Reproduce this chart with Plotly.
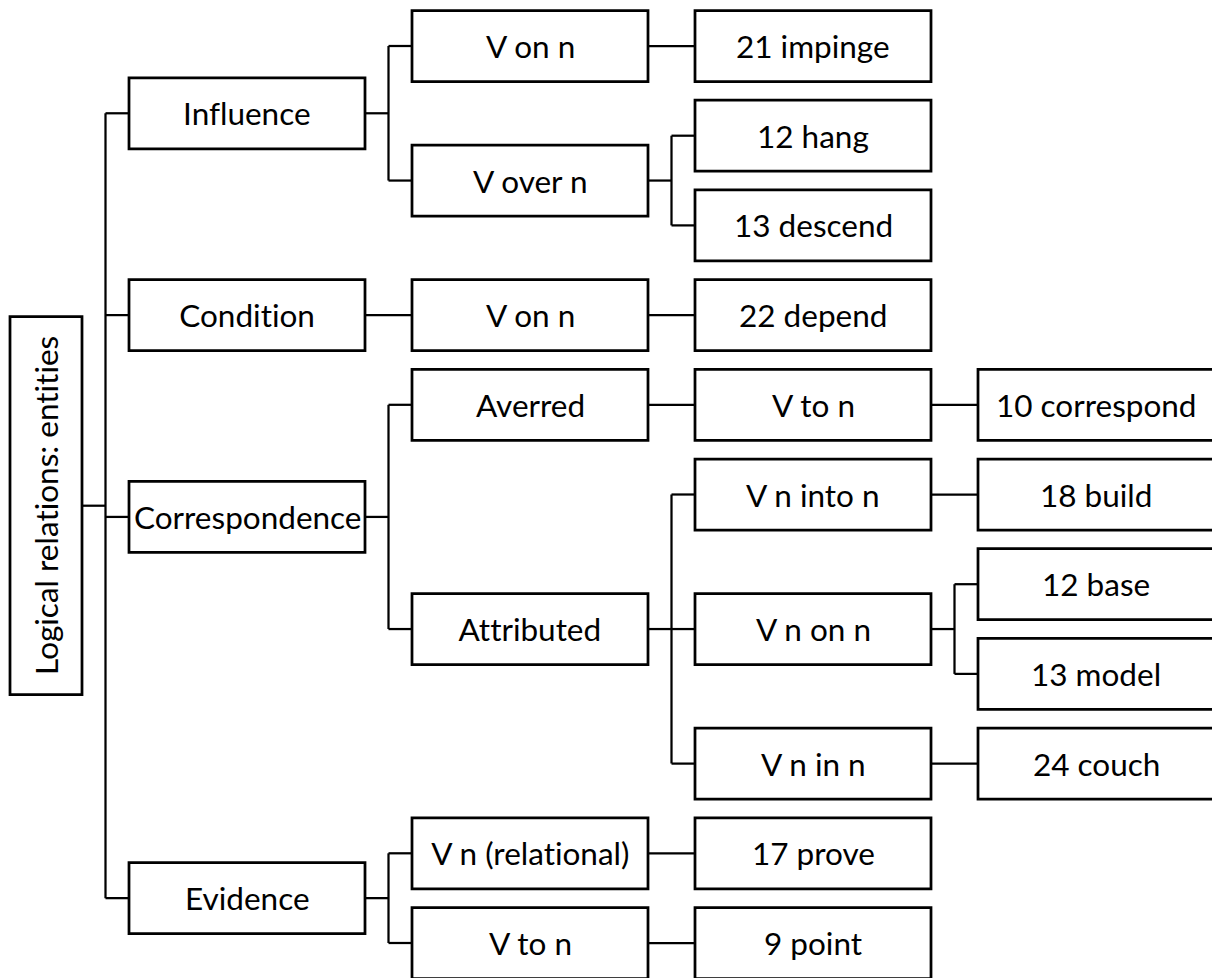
import plotly.graph_objects as go

# ---------------- data: the tree ----------------
labels = [
    "Logical relations: entities",
    "Influence", "V on n", "21 impinge", "V over n", "12 hang", "13 descend",
    "Condition", "V on n", "22 depend",
    "Correspondence", "Averred", "V to n", "10 correspond",
    "Attributed", "V n into n", "18 build", "V n on n", "12 base", "13 model",
    "V n in n", "24 couch",
    "Evidence", "V n (relational)", "17 prove", "V to n", "9 point",
]
parents = [
    None,
    0, 1, 2, 1, 4, 4,
    0, 7, 8,
    0, 10, 11, 12,
    10, 14, 15, 14, 17, 17,
    14, 20,
    0, 22, 23, 22, 25,
]

# ---------------- layout constants (pixels) ----------------
W, H = 1212, 978
COL0_LEFT = 129          # left edge of depth-1 column
COL_PITCH = 283          # distance between column left edges
BOX_W = 236
BOX_H = 71
ROW0_Y = 46              # centre of first leaf row
ROW_PITCH = 89.7
ROOT_W = 72
ROOT_H = 378
BOX_LW = 2.75
LINK_LW = 2.25
FONT = dict(family="Lato, 'Open Sans', sans-serif", size=31.5, color="black")

n = len(labels)
children = [[] for _ in range(n)]
for i, p in enumerate(parents):
    if p is not None:
        children[p].append(i)

depth = [0] * n
for i in range(n):
    d, p = 0, parents[i]
    while p is not None:
        d += 1
        p = parents[p]
    depth[i] = d

# y positions: leaves on successive rows, parents mid of first/last child
ypos = [None] * n
leaf_counter = [0]


def place(i):
    if not children[i]:
        ypos[i] = ROW0_Y + ROW_PITCH * leaf_counter[0]
        leaf_counter[0] += 1
    else:
        for c in children[i]:
            place(c)
        ypos[i] = (ypos[children[i][0]] + ypos[children[i][-1]]) / 2


place(0)


def box_x(i):
    if depth[i] == 0:
        right = COL0_LEFT - (COL_PITCH - BOX_W)
        return right - ROOT_W, right
    left = COL0_LEFT + COL_PITCH * (depth[i] - 1)
    return left, left + BOX_W


def box_y(i):
    h = ROOT_H if depth[i] == 0 else BOX_H
    return ypos[i] - h / 2, ypos[i] + h / 2


fig = go.Figure()
shapes = []
annotations = []

# connectors
for i in range(n):
    ch = children[i]
    if not ch:
        continue
    px1 = box_x(i)[1]
    cx0 = box_x(ch[0])[0]
    jx = (px1 + cx0) / 2
    line = dict(color="black", width=LINK_LW)
    if len(ch) == 1:
        shapes.append(dict(type="line", xref="x", yref="y", x0=px1, x1=cx0,
                           y0=ypos[i], y1=ypos[i], line=line, layer="below"))
        continue
    shapes.append(dict(type="line", xref="x", yref="y", x0=px1, x1=jx,
                       y0=ypos[i], y1=ypos[i], line=line, layer="below"))
    shapes.append(dict(type="line", xref="x", yref="y", x0=jx, x1=jx,
                       y0=ypos[ch[0]], y1=ypos[ch[-1]], line=line, layer="below"))
    for c in ch:
        shapes.append(dict(type="line", xref="x", yref="y", x0=jx, x1=cx0,
                           y0=ypos[c], y1=ypos[c], line=line, layer="below"))

# boxes and labels
for i in range(n):
    x0, x1 = box_x(i)
    y0, y1 = box_y(i)
    shapes.append(dict(type="rect", xref="x", yref="y", x0=x0, x1=x1, y0=y0, y1=y1,
                       line=dict(color="black", width=BOX_LW), fillcolor="white",
                       layer="above"))
    annotations.append(dict(x=(x0 + x1) / 2, y=ypos[i], xref="x", yref="y",
                            text=labels[i], showarrow=False, font=FONT,
                            xanchor="center", yanchor="middle",
                            textangle=-90 if depth[i] == 0 else 0))

fig.update_layout(
    width=W, height=H, autosize=False,
    margin=dict(l=0, r=0, t=0, b=0),
    paper_bgcolor="white", plot_bgcolor="white",
    shapes=shapes, annotations=annotations,
    showlegend=False,
    xaxis=dict(range=[0, W], visible=False, fixedrange=True),
    yaxis=dict(range=[H, 0], visible=False, fixedrange=True),
)

fig.write_html(
    "out.html",
    config={"displayModeBar": False},
    post_script=(
        "document.body.style.margin='0';document.body.style.padding='0';"
        "document.body.style.overflow='hidden';"
        "document.documentElement.style.overflow='hidden';"
        "var s=document.createElement('style');"
        "s.textContent='text{font-variant-ligatures:none !important;"
        "font-feature-settings:\"liga\" 0,\"clig\" 0 !important;}';"
        "document.head.appendChild(s);"
    ),
)
